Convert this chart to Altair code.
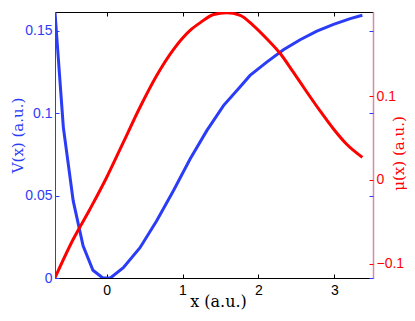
import altair as alt
import pandas as pd

# Data
x_v = [-0.68, -0.57, -0.44, -0.31, -0.18, -0.05, 0.05, 0.22, 0.44, 0.66, 0.88, 1.10, 1.32,
       1.54, 1.76, 1.89, 2.11, 2.33, 2.55, 2.77, 2.99, 3.21, 3.37]
v_vals = [0.161, 0.0914, 0.0468, 0.0195, 0.0047, 0.0, 0.0, 0.0063, 0.0184, 0.0347, 0.053, 0.0722, 0.0894,
          0.1046, 0.116, 0.1229, 0.131, 0.1385, 0.1446, 0.1498, 0.1539, 0.1574, 0.1594]
x_mu = [-0.68, -0.44, -0.22, 0.0, 0.22, 0.44, 0.66, 0.88, 1.10, 1.23, 1.41, 1.58, 1.76,
        1.93, 2.11, 2.29, 2.46, 2.64, 2.81, 2.99, 3.16, 3.37]
mu_vals = [-0.117, -0.071, -0.035, 0.003, 0.045, 0.087, 0.125, 0.156, 0.179, 0.188, 0.198, 0.200, 0.197,
           0.185, 0.169, 0.151, 0.129, 0.105, 0.083, 0.061, 0.043, 0.027]

x_ticks = [0, 1, 2, 3]
v_ticks = [0, 0.05, 0.1, 0.15]
mu_ticks = [-0.1, 0, 0.1]

X_DOM = [-0.68, 3.51]
V_DOM = [0, 0.1614]
MU_DOM = [-0.1173, 0.201]

BLUE = "#2b3cf6"
RED = "#ff0000"
W, H = 318, 266

dv = pd.DataFrame({"x": x_v, "v": v_vals})
dm = pd.DataFrame({"x": x_mu, "mu": mu_vals})

xs = alt.Scale(domain=X_DOM, nice=False, zero=False)
vs = alt.Scale(domain=V_DOM, nice=False, zero=False)
ms = alt.Scale(domain=MU_DOM, nice=False, zero=False)

label_font = "Liberation Sans"
title_font = "DejaVu Serif"
LFS = 14
TFS = 15

blue = alt.Chart(dv).mark_line(color=BLUE, strokeWidth=3, clip=True).encode(
    x=alt.X("x:Q", scale=xs, axis=alt.Axis(
        orient="bottom", values=x_ticks, format="d", ticks=False, domainColor="black",
        labelColor="black", labelFont=label_font, labelFontSize=LFS, labelPadding=5,
        title="x (a.u.)", titleFont=title_font, titleFontSize=16, titleFontWeight="normal",
        titleColor="black", titleX=163, titleY=23, titleAlign="center", titleBaseline="middle",
        grid=False)),
    y=alt.Y("v:Q", scale=vs, axis=alt.Axis(
        orient="left", values=v_ticks, format="~g", ticks=False, domainColor=BLUE, labelColor=BLUE,
        labelFont=label_font, labelFontSize=LFS, labelPadding=3,
        title="V(x) (a.u.)", titleFont=title_font, titleFontSize=TFS, titleFontWeight="normal",
        titleColor=BLUE, titleAngle=270, titleX=-38, titleY=123, titleAlign="center",
        titleBaseline="middle", grid=False)),
)

red = alt.Chart(dm).mark_line(color=RED, strokeWidth=3, clip=True, interpolate="monotone").encode(
    x=alt.X("x:Q", scale=xs, axis=alt.Axis(
        orient="top", offset=-H, values=x_ticks, labels=False, domain=False,
        ticks=True, tickSize=4, tickColor="black", title=None, grid=False)),
    y=alt.Y("mu:Q", scale=ms, axis=alt.Axis(
        orient="right", values=mu_ticks, format="~g", ticks=False, domainColor="#d88aa8", domainWidth=1.5,
        labelColor=RED, labelFont=label_font, labelFontSize=LFS, labelPadding=3,
        title="μ(x) (a.u.)", titleFont=title_font, titleFontSize=TFS, titleFontWeight="normal",
        titleColor=RED, titleAngle=270, titleX=25, titleY=141, titleAlign="center",
        titleBaseline="middle", grid=False)),
)

# invisible layers that only carry inward tick marks / frame
t1 = alt.Chart(dv).mark_line(opacity=0).encode(
    x=alt.X("x:Q", scale=xs, axis=alt.Axis(
        orient="bottom", offset=-H, values=x_ticks, labels=False, domainColor="black",
        ticks=True, tickSize=4, tickColor="black", title=None, grid=False)),
    y=alt.Y("v:Q", scale=vs, axis=alt.Axis(
        orient="right", offset=-W, values=v_ticks, labels=False, domain=False,
        ticks=True, tickSize=4, tickColor=BLUE, title=None, grid=False)),
)

t2 = alt.Chart(dv).mark_line(opacity=0).encode(
    x=alt.X("x:Q", scale=xs, axis=None),
    y=alt.Y("v:Q", scale=vs, axis=alt.Axis(
        orient="left", offset=-W, values=v_ticks, labels=False, domain=False,
        ticks=True, tickSize=4, tickColor=BLUE, title=None, grid=False)),
)

t3 = alt.Chart(dm).mark_line(opacity=0).encode(
    x=alt.X("x:Q", scale=xs, axis=None),
    y=alt.Y("mu:Q", scale=ms, axis=alt.Axis(
        orient="left", offset=-W, values=mu_ticks, labels=False, domain=False,
        ticks=True, tickSize=4, tickColor=RED, title=None, grid=False)),
)

chart = alt.layer(blue, red, t1, t2, t3).resolve_scale(
    x="independent", y="independent"
).properties(
    width=W, height=H,
    autosize=alt.AutoSizeParams(type="none"),
    padding={"left": 47, "top": 4, "right": 34, "bottom": 35},
).configure_view(stroke=None).configure(background="white")

chart.save("out.html", embed_options={"renderer": "svg", "actions": False})
